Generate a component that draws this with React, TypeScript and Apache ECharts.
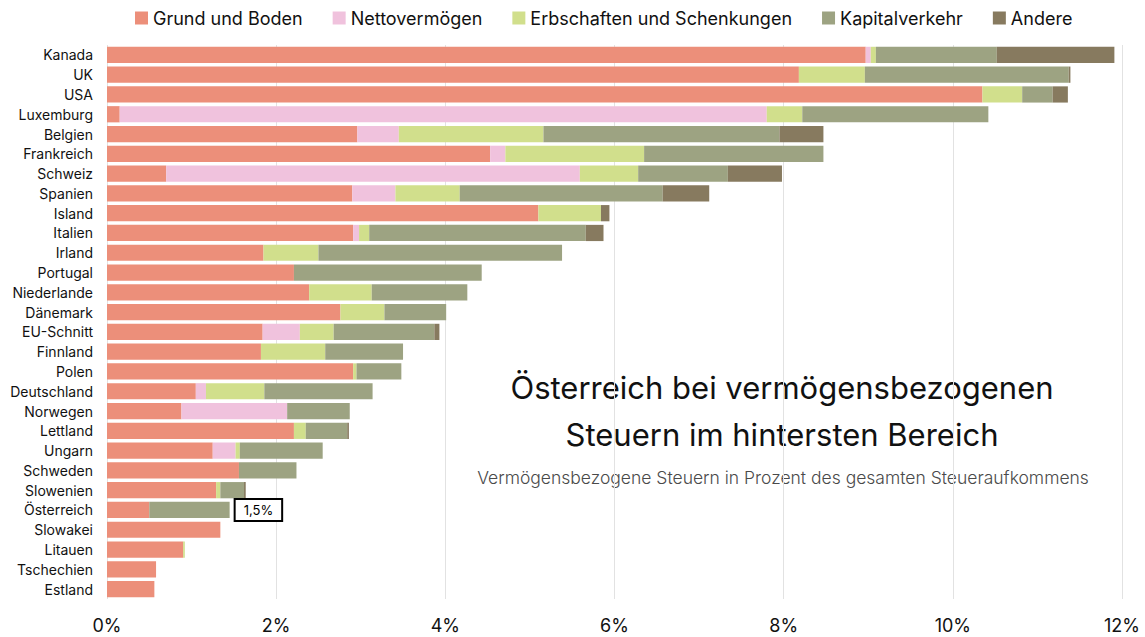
import React, { useEffect, useRef } from "react";
import * as echarts from "echarts";

const categories = ["Kanada","UK","USA","Luxemburg","Belgien","Frankreich","Schweiz","Spanien","Island","Italien","Irland","Portugal","Niederlande","Dänemark","EU-Schnitt","Finnland","Polen","Deutschland","Norwegen","Lettland","Ungarn","Schweden","Slowenien","Österreich","Slowakei","Litauen","Tschechien","Estland"];

const grundUndBoden = [8.97, 8.18, 10.35, 0.15, 2.96, 4.53, 0.70, 2.90, 5.10, 2.91, 1.85, 2.21, 2.39, 2.76, 1.84, 1.82, 2.91, 1.05, 0.88, 2.21, 1.25, 1.56, 1.29, 0.50, 1.34, 0.90, 0.58, 0.56];
const nettovermoegen = [0.06, 0, 0, 7.65, 0.49, 0.18, 4.89, 0.51, 0, 0.07, 0, 0, 0, 0, 0.44, 0, 0, 0.12, 1.25, 0, 0.27, 0, 0, 0, 0, 0, 0, 0];
const erbschaften = [0.06, 0.78, 0.47, 0.42, 1.71, 1.64, 0.69, 0.76, 0.74, 0.12, 0.65, 0, 0.74, 0.52, 0.40, 0.76, 0.04, 0.69, 0, 0.14, 0.05, 0, 0.05, 0, 0, 0.02, 0, 0];
const kapitalverkehr = [1.43, 2.41, 0.36, 2.20, 2.79, 2.12, 1.06, 2.40, 0, 2.56, 2.88, 2.22, 1.13, 0.73, 1.19, 0.92, 0.53, 1.28, 0.74, 0.49, 0.98, 0.68, 0.28, 0.95, 0, 0, 0, 0];
const andere = [1.39, 0.02, 0.18, 0, 0.52, 0, 0.64, 0.55, 0.10, 0.21, 0, 0, 0, 0, 0.06, 0, 0, 0, 0, 0.02, 0, 0, 0.02, 0, 0, 0, 0, 0];

const xTicks = [0, 2, 4, 6, 8, 10, 12];
const highlightCountry = "Österreich";
const highlightLabel = "1,5%";

const seriesNames = ["Grund und Boden", "Nettovermögen", "Erbschaften und Schenkungen", "Kapitalverkehr", "Andere"];
const seriesColors = ["#EC8F7A", "#F0C2DD", "#D1DF8C", "#9DA382", "#877A5F"];

const FONT = "Inter, 'Noto Sans', sans-serif";

export default function App() {
  const ref = useRef<HTMLDivElement>(null);
  useEffect(() => {
    if (!ref.current) return;
    const chart = echarts.init(ref.current, undefined, { renderer: "svg" });
    const hi = categories.indexOf(highlightCountry);
    const kapData = kapitalverkehr.map((v, i) =>
      i === hi
        ? {
            value: v,
            label: {
              show: true,
              position: "right",
              distance: 6,
              formatter: highlightLabel,
              color: "#000",
              fontSize: 13,
              fontFamily: FONT,
              borderColor: "#000",
              borderWidth: 2,
              padding: [4, 8, 3, 8],
              backgroundColor: "#fff",
            },
          }
        : v
    );
    const datas = [grundUndBoden, nettovermoegen, erbschaften, kapData, andere];
    chart.setOption({
      animation: false,
      backgroundColor: "#fff",
      textStyle: { fontFamily: FONT },
      legend: {
        top: 4,
        left: 130,
        icon: "rect",
        itemWidth: 13,
        itemHeight: 13,
        itemGap: 30,
        textStyle: { fontSize: 18, color: "#111", fontFamily: FONT },
        data: seriesNames,
      },
      grid: { left: 107, right: 23, top: 45, bottom: 38 },
      xAxis: {
        type: "value",
        min: 0,
        max: 12,
        interval: 2,
        axisLine: { show: false },
        axisTick: { show: false },
        splitLine: { show: true, lineStyle: { color: "#e2e2e2", width: 1 } },
        axisLabel: {
          formatter: (v: number) => (xTicks.includes(v) ? `${v}%` : ""),
          fontSize: 18,
          color: "#111",
          margin: 17,
          fontFamily: FONT,
        },
      },
      yAxis: {
        type: "category",
        inverse: true,
        data: categories,
        axisLine: { show: false },
        axisTick: { show: false },
        axisLabel: { fontSize: 14, color: "#111", margin: 14, fontFamily: FONT },
      },
      graphic: [
        {
          type: "text",
          x: 782,
          y: 411,
          style: {
            text: "Österreich bei vermögensbezogenen\nSteuern im hintersten Bereich",
            textAlign: "center",
            textVerticalAlign: "middle",
            font: `400 31px ${FONT}`,
            lineHeight: 47,
            fill: "#111",
          },
        },
        {
          type: "text",
          x: 783,
          y: 477,
          style: {
            text: "Vermögensbezogene Steuern in Prozent des gesamten Steueraufkommens",
            textAlign: "center",
            textVerticalAlign: "middle",
            font: `300 17.5px ${FONT}`,
            fill: "#4a4a4a",
          },
        },
      ],
      series: seriesNames.map((name, k) => ({
        name,
        type: "bar",
        stack: "total",
        barCategoryGap: "18%",
        itemStyle: { color: seriesColors[k] },
        emphasis: { disabled: true },
        data: datas[k],
      })),
    });
    return () => chart.dispose();
  }, []);
  return <div ref={ref} style={{ position: "fixed", left: 0, top: 0, width: 1145, height: 637 }} />;
}
